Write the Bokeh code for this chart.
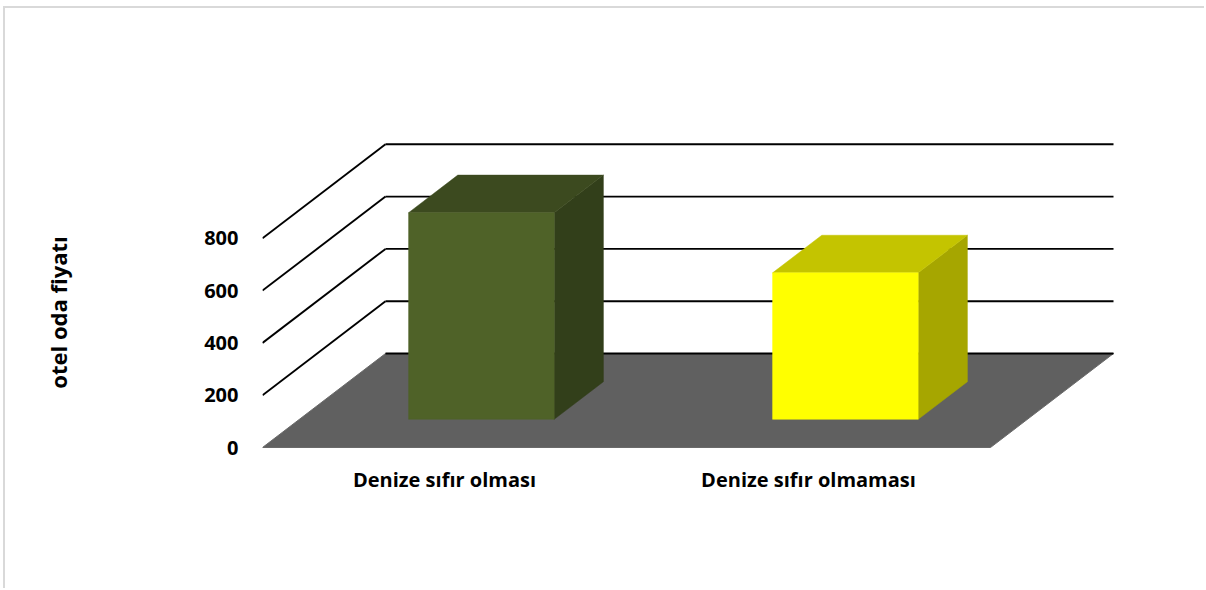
import math
from bokeh.plotting import figure
from bokeh.models import FixedTicker, Range1d
from bokeh.embed import file_html
from bokeh.resources import INLINE

# ---- data ----
categories = ["Denize sıfır olması", "Denize sıfır olmaması"]
values = [790, 560]
y_ticks = [0, 200, 400, 600, 800]
y_title = "otel oda fiyatı"
front_colors = ["#4F6228", "#FFFF00"]
top_colors = ["#3C4A1F", "#C4C400"]
side_colors = ["#323F1A", "#A6A600"]

# ---- projection / layout constants ----
OX, OY = 5, 8      # canvas offset inside the chart border
PX_X = 364.0       # px per category
PX_Y = 0.2615      # px per value unit
DX = 123.0 / PX_X  # full depth offset (x units)
DY = 94.0 / PX_Y   # full depth offset (value units)
BAR_W = 0.4        # bar width fraction of category
D0, D1 = 0.3, 0.7  # bar depth extent

ZERO_X, ZERO_Y = 262, 447          # page position of value 0 / first category edge
FRAME_L, FRAME_R = 262, 1118
FRAME_T, FRAME_B = 124, 500        # centred on the y title (312)
W, H = 1206 - OX, 590 - OY

n = len(categories)
x_start = (FRAME_L - ZERO_X) / PX_X
x_end = (FRAME_R - ZERO_X) / PX_X
y_start = -(FRAME_B - ZERO_Y) / PX_Y
y_end = (ZERO_Y - FRAME_T) / PX_Y

p = figure(width=W, height=H, output_backend="svg", toolbar_location=None,
           x_range=Range1d(x_start, x_end), y_range=Range1d(y_start, y_end),
           min_border_left=FRAME_L - OX, min_border_right=W - (FRAME_R - OX),
           min_border_top=FRAME_T - OY, min_border_bottom=H - (FRAME_B - OY))
p.styles = {"margin-left": "3px", "margin-top": "6px",
            "border-left": "2px solid #D9D9D9", "border-top": "2px solid #D9D9D9"}
p.outline_line_color = None
p.grid.visible = False
p.background_fill_color = "white"
p.border_fill_color = "white"

# walls: back lines and left diagonal lines
back_xs = [[DX, n + DX] for v in y_ticks if v > 0]
back_ys = [[DY + v, DY + v] for v in y_ticks if v > 0]
p.multi_line(back_xs, back_ys, line_color="black", line_width=1.9)
left_xs = [[0, DX] for v in y_ticks if v > 0]
left_ys = [[v, DY + v] for v in y_ticks if v > 0]
p.multi_line(left_xs, left_ys, line_color="black", line_width=1.9)

# floor
p.patch([0, n, n + DX, DX], [0, 0, DY, DY], fill_color="#606060", line_color="#6A6A6A", line_width=1)
p.line([DX, n + DX], [DY, DY], line_color="black", line_width=1.9)

# bars
fx, fy, tx, ty, sx, sy = [], [], [], [], [], []
for i, v in enumerate(values):
    x0 = i + (1 - BAR_W) / 2 + D0 * DX
    x1 = x0 + BAR_W
    y0 = D0 * DY
    ddx = (D1 - D0) * DX
    ddy = (D1 - D0) * DY
    fx.append([x0, x1, x1, x0]); fy.append([y0, y0, y0 + v, y0 + v])
    tx.append([x0, x1, x1 + ddx, x0 + ddx]); ty.append([y0 + v, y0 + v, y0 + v + ddy, y0 + v + ddy])
    sx.append([x1, x1 + ddx, x1 + ddx, x1]); sy.append([y0, y0 + ddy, y0 + v + ddy, y0 + v])
p.patches(sx, sy, fill_color=side_colors, line_color=side_colors, line_width=0.5)
p.patches(tx, ty, fill_color=top_colors, line_color=top_colors, line_width=0.5)
p.patches(fx, fy, fill_color=front_colors, line_color=front_colors, line_width=0.5)

# axes
p.xaxis.ticker = FixedTicker(ticks=[i + 0.5 for i in range(n)])
p.xaxis.major_label_overrides = {i + 0.5: c for i, c in enumerate(categories)}
p.yaxis.ticker = FixedTicker(ticks=y_ticks)
for ax in (p.xaxis, p.yaxis):
    ax.axis_line_color = None
    ax.major_tick_line_color = None
    ax.minor_tick_line_color = None
    ax.major_tick_out = 0
    ax.major_tick_in = 0
    ax.major_label_text_font = "Open Sans"
    ax.major_label_text_font_style = "bold"
    ax.major_label_text_font_size = "20px"
    ax.major_label_text_color = "black"
p.xaxis.major_label_standoff = 18 - (FRAME_B - ZERO_Y)
p.yaxis.major_label_standoff = 24

# y title via axis label
p.yaxis.axis_label = y_title
p.yaxis.axis_label_text_font = "Open Sans"
p.yaxis.axis_label_text_font_style = "bold"
p.yaxis.axis_label_text_font_size = "22px"
p.yaxis.axis_label_text_color = "black"
p.yaxis.axis_label_standoff = 128

open("out.html", "w").write(file_html(p, INLINE))
